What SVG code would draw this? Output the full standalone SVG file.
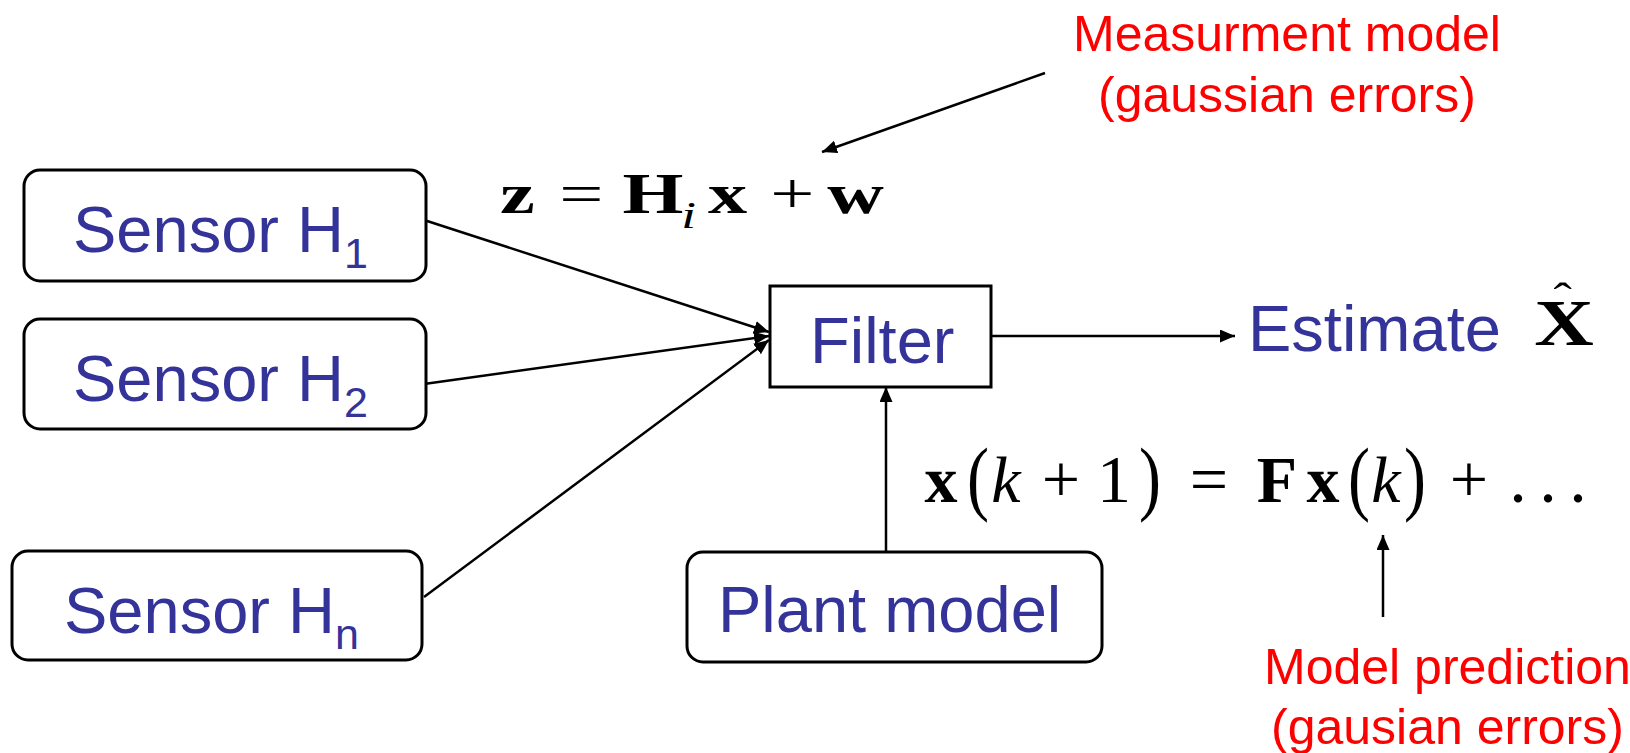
<svg xmlns="http://www.w3.org/2000/svg" width="1630" height="753" viewBox="0 0 1630 753">
<style>
.box{fill:#fff;stroke:#000;stroke-width:3}
.lbl{font-family:"Liberation Sans",Arial,sans-serif;font-size:65px;fill:#333399}
.red{font-family:"Liberation Sans",Arial,sans-serif;font-size:50px;fill:#ff0000}
.conn{stroke:#000;stroke-width:2.5;fill:none}
.m{font-family:"Liberation Serif","Times New Roman",serif;fill:#000}
.b{font-weight:bold}
.it{font-style:italic}
</style>
<defs>
<marker id="ah" markerUnits="userSpaceOnUse" markerWidth="16" markerHeight="14" refX="15" refY="6.5" orient="auto">
<path d="M0,0 L15,6.5 L0,13 z" fill="#000"/>
</marker>
</defs>
<rect width="1630" height="753" fill="#fff"/>
<g id="connectors">
<line class="conn" x1="424" y1="220" x2="769" y2="332" marker-end="url(#ah)"/>
<line class="conn" x1="424" y1="384" x2="769" y2="336" marker-end="url(#ah)"/>
<line class="conn" x1="424" y1="597" x2="769" y2="340" marker-end="url(#ah)"/>
<line class="conn" x1="886" y1="552" x2="886" y2="387" marker-end="url(#ah)"/>
<line class="conn" x1="991" y1="336" x2="1235" y2="336" marker-end="url(#ah)"/>
<line class="conn" x1="1045" y1="73" x2="822" y2="152" marker-end="url(#ah)"/>
<line class="conn" x1="1383" y1="617" x2="1383" y2="535" marker-end="url(#ah)"/>
</g>
<g id="sensor1">
<rect class="box" x="24" y="170" width="402" height="111" rx="16"/>
<text class="lbl" x="73" y="252">Sensor H<tspan font-size="43" dy="16">1</tspan></text>
</g>
<g id="sensor2">
<rect class="box" x="24" y="319" width="402" height="110" rx="16"/>
<text class="lbl" x="73" y="401">Sensor H<tspan font-size="43" dy="16">2</tspan></text>
</g>
<g id="sensorn">
<rect class="box" x="12" y="551" width="410" height="109" rx="16"/>
<text class="lbl" x="64" y="633">Sensor H<tspan font-size="43" dy="16">n</tspan></text>
</g>
<g id="filter">
<rect class="box" x="770" y="286" width="221" height="101"/>
<text class="lbl" x="810" y="363">Filter</text>
</g>
<g id="plant">
<rect class="box" x="687" y="552" width="415" height="110" rx="16"/>
<text class="lbl" x="718" y="632">Plant model</text>
</g>
<g id="estimate">
<text class="lbl" x="1248" y="351" font-size="63">Estimate</text>
<g transform="translate(1564 345) scale(1.25 1)">
<text class="m b" x="0" y="0" font-size="66" text-anchor="middle">X<tspan x="-1" y="-32" font-size="44" font-weight="normal">ˆ</tspan></text>
</g>
</g>
<g id="measurement-note">
<text class="red" x="1073" y="51">Measurment model</text>
<text class="red" x="1098" y="112">(gaussian errors)</text>
</g>
<g id="prediction-note">
<text class="red" x="1264" y="684" font-size="49">Model prediction</text>
<text class="red" x="1271" y="744" font-size="49">(gausian errors)</text>
</g>
<g id="measurement-eq" transform="translate(502 213) scale(1.4 1)">
<text class="m b" x="11" y="0" font-size="56" text-anchor="middle">z</text>
<text class="m" x="56.7" y="0" font-size="56" text-anchor="middle">=</text>
<text class="m b" x="107.8" y="0" font-size="56" text-anchor="middle">H</text>
<text class="m it" x="133.3" y="15" font-size="38" text-anchor="middle">i</text>
<text class="m b" x="161.1" y="0" font-size="56" text-anchor="middle">x</text>
<text class="m" x="207.4" y="0" font-size="56" text-anchor="middle">+</text>
<text class="m b" x="252.6" y="0" font-size="56" text-anchor="middle">w</text>
</g>
<g id="plant-eq" font-size="66">
<text class="m b" x="941" y="502" text-anchor="middle">x</text>
<text class="m" transform="translate(978 505) scale(1 1.25)" text-anchor="middle">(</text>
<text class="m it" x="1006" y="502" text-anchor="middle">k</text>
<text class="m" x="1061" y="502" font-size="68" text-anchor="middle">+</text>
<text class="m" x="1114" y="502" font-size="68" text-anchor="middle">1</text>
<text class="m" transform="translate(1150 505) scale(1 1.25)" text-anchor="middle">)</text>
<text class="m" x="1209" y="502" font-size="68" text-anchor="middle">=</text>
<text class="m b" x="1277" y="502" text-anchor="middle">F</text>
<text class="m b" x="1323" y="502" text-anchor="middle">x</text>
<text class="m" transform="translate(1359 505) scale(1 1.25)" text-anchor="middle">(</text>
<text class="m it" x="1386" y="502" text-anchor="middle">k</text>
<text class="m" transform="translate(1415 505) scale(1 1.25)" text-anchor="middle">)</text>
<text class="m" x="1469" y="502" font-size="68" text-anchor="middle">+</text>
<text class="m" y="502" font-size="70" text-anchor="middle"><tspan x="1518">.</tspan><tspan x="1548">.</tspan><tspan x="1578">.</tspan></text>
</g>
</svg>
